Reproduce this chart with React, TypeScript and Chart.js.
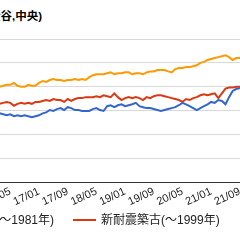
import React, { useEffect, useRef } from "react";
import { Chart, registerables } from "chart.js";

Chart.register(...registerables);

const MONTHS = [
  "16/01","16/02","16/03","16/04","16/05","16/06","16/07","16/08","16/09","16/10","16/11","16/12",
  "17/01","17/02","17/03","17/04","17/05","17/06","17/07","17/08","17/09","17/10","17/11","17/12",
  "18/01","18/02","18/03","18/04","18/05","18/06","18/07","18/08","18/09","18/10","18/11","18/12",
  "19/01","19/02","19/03","19/04","19/05","19/06","19/07","19/08","19/09","19/10","19/11","19/12",
  "20/01","20/02","20/03","20/04","20/05","20/06","20/07","20/08","20/09","20/10","20/11","20/12",
  "21/01","21/02","21/03","21/04","21/05","21/06","21/07","21/08","21/09","21/10","21/11",
];

const TICK_LABELS = ["16/05","17/01","17/09","18/05","19/01","19/09","20/05","21/01","21/09"];

// 旧耐震(～1981年)
const OLD_QUAKE = [
  72,72,71,70,71,69,70,69,70,69,
  68,69,70,72,73,75.5,74.5,76.5,77.5,75.5,
  78.5,77.5,75.5,75.5,74.5,74.5,74.5,76.5,77.5,75.5,
  74.5,79.5,80.5,78.5,80.5,81.5,79.5,80.5,81.5,83,
  79.5,78.5,77.5,77.5,76.5,75.5,74.5,75.5,76.5,77.5,
  78.5,80.5,83,81.5,79.5,77.5,75.5,77.5,79.5,81.5,
  84,83,86,85,81.5,89,95.5,97.5,98.5,99.5,99.5,
];

// 新耐震築古(～1999年)
const NEW_QUAKE_OLD = [
  81,82,83,84,83,80,82,83,82,83,
  82,84,84,85,86,85,87,86,86,84,
  87,85,87,88,88,89,89,89,90,89,
  91,90,89,93,89,86,88,89,88,89,
  88,86,89,88,90,91,91,90,89,88,
  87,86,84,87,86,88,89,91,92,91,
  92,93,88,93,98,99,99,100,100,101,101,
];

// 新耐震築浅(2000年～)
const NEW_QUAKE_RECENT = [
  100,100,101,102,102,104,101,100,100,102,
  101,101,104,106,105,107,108,107,107,106,
  107,107,108,107,108,107,110,112,113,113,
  113,114,115,113,114,114,115,115,113,114,
  114,113,115,116,116,117.5,117.5,117.5,116,115,
  118.5,119.5,119.5,120.5,120.5,121.5,122.5,125,126,128,
  129,130,131,132,133,131,128,130,130,131,131,
];

const SERIES_NAMES = ["旧耐震(～1981年)", "新耐震築古(～1999年)", "新耐震築浅(2000年～)"];
const COLORS = ["#3366cc", "#dc3912", "#ff9900"];
const TITLE = "中古マンション価格推移(千代田,港,渋谷,中央)";

const Y_MIN = 0;
const Y_MAX = 150;
const Y_STEP = 25;

const FONT = '"Liberation Sans", Arial, "Noto Sans CJK JP", sans-serif';

export default function App() {
  const canvasRef = useRef<HTMLCanvasElement>(null);

  useEffect(() => {
    const series = [OLD_QUAKE, NEW_QUAKE_OLD, NEW_QUAKE_RECENT];
    const chart = new Chart(canvasRef.current as HTMLCanvasElement, {
      type: "line",
      data: {
        labels: MONTHS,
        datasets: series.map((d, i) => ({
          label: SERIES_NAMES[i],
          data: d,
          borderColor: COLORS[i],
          backgroundColor: COLORS[i],
          borderWidth: 2,
          pointRadius: 0,
          tension: 0,
          fill: false,
        })),
      },
      options: {
        animation: false,
        responsive: true,
        maintainAspectRatio: false,
        layout: { padding: 0 },
        plugins: {
          legend: { display: false },
          title: { display: false },
          tooltip: { enabled: false },
        },
        scales: {
          x: {
            grid: { display: false, drawTicks: false },
            border: { display: true, color: "#333333", width: 1 },
            ticks: {
              autoSkip: false,
              minRotation: 25,
              maxRotation: 25,
              padding: 3,
              color: "#222222",
              font: { family: FONT, size: 11 },
              callback: (_v: any, index: number) =>
                TICK_LABELS.includes(MONTHS[index]) ? MONTHS[index] : "",
            },
            afterFit: (scale: any) => {
              scale.height = 32;
              scale.paddingLeft = 0;
              scale.paddingRight = 0;
            },
          },
          y: {
            min: Y_MIN,
            max: Y_MAX,
            ticks: { display: false, stepSize: Y_STEP },
            grid: {
              drawTicks: false,
              color: (ctx: any) => (ctx.tick && ctx.tick.value === Y_MIN ? "rgba(0,0,0,0)" : "#d9d9d9"),
            },
            border: { display: false },
            afterFit: (scale: any) => {
              scale.width = 0;
              scale.paddingTop = 0;
              scale.paddingBottom = 0;
            },
          },
        },
      },
    });
    return () => chart.destroy();
  }, []);

  const sample = (color: string) => (
    <span style={{ display: "inline-block", width: 23, height: 2, background: color, marginRight: 5 }} />
  );

  return (
    <div style={{ position: "fixed", left: 0, top: 0, width: 240, height: 240, overflow: "hidden", background: "#fff" }}>
      <div
        style={{
          position: "absolute",
          left: -400,
          width: 442,
          top: 10,
          textAlign: "right",
          font: `bold 11.5px ${FONT}`,
          lineHeight: "12px",
          color: "#000",
          whiteSpace: "nowrap",
        }}
      >
        {TITLE}
      </div>
      <div style={{ position: "absolute", left: -4, top: 39, width: 251, height: 175 }}>
        <canvas ref={canvasRef} />
      </div>
      <div
        style={{
          position: "absolute",
          left: -300,
          width: 354,
          top: 213,
          display: "flex",
          justifyContent: "flex-end",
          alignItems: "center",
          font: `12px ${FONT}`,
          lineHeight: "14px",
          color: "#222",
          whiteSpace: "nowrap",
        }}
      >
        {sample(COLORS[0])}
        <span>{SERIES_NAMES[0]}</span>
      </div>
      <div
        style={{
          position: "absolute",
          left: 73,
          top: 213,
          display: "flex",
          alignItems: "center",
          font: `12px ${FONT}`,
          lineHeight: "14px",
          color: "#222",
          whiteSpace: "nowrap",
        }}
      >
        {sample(COLORS[1])}
        <span>{SERIES_NAMES[1]}</span>
        <span style={{ display: "inline-block", width: 20 }} />
        {sample(COLORS[2])}
        <span>{SERIES_NAMES[2]}</span>
      </div>
    </div>
  );
}
